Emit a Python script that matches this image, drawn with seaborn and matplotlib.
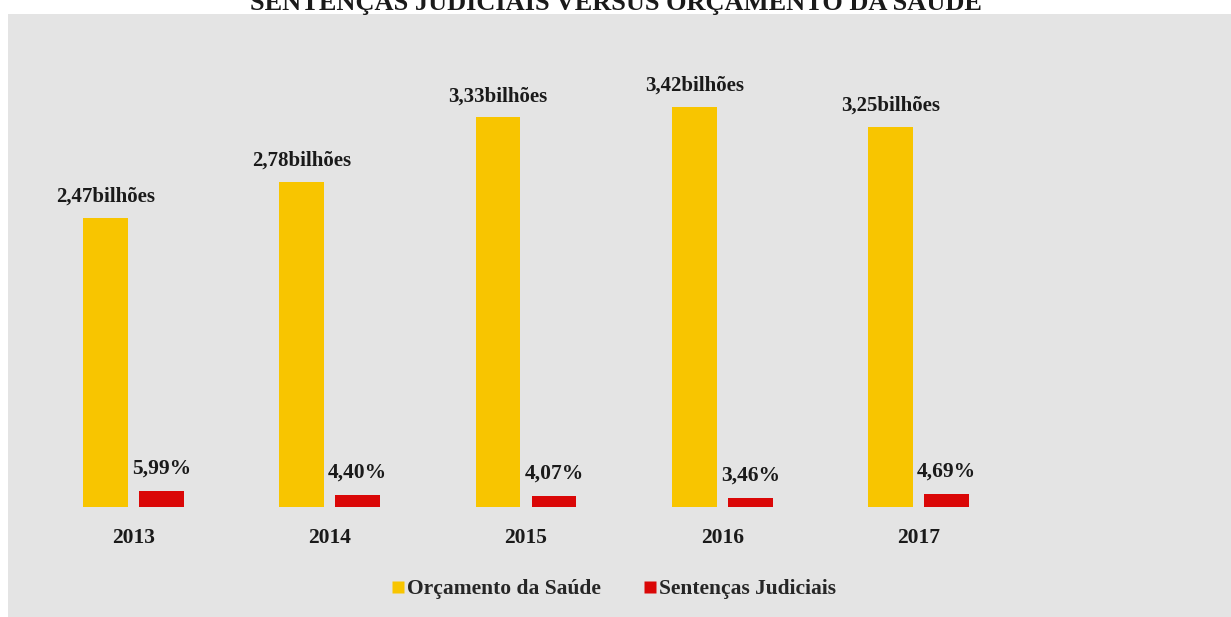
import matplotlib
matplotlib.use("Agg")
import matplotlib.pyplot as plt
from matplotlib.patches import Rectangle
from matplotlib.lines import Line2D
import seaborn as sns
import pandas as pd

# Data
anos = ["2013", "2014", "2015", "2016", "2017"]
orcamento_bi = [2.47, 2.78, 3.33, 3.42, 3.25]          # bilhões
sentencas_pct = [5.99, 4.40, 4.07, 3.46, 4.69]         # % do orçamento
series = ["Orçamento da Saúde", "Sentenças Judiciais"]
cores = {"Orçamento da Saúde": "#F8C500", "Sentenças Judiciais": "#DA0707"}
titulo = "SENTENÇAS JUDICIAIS VERSUS ORÇAMENTO DA SAÚDE"

df = pd.DataFrame({
    "Ano": anos * 2,
    "Série": [series[0]] * len(anos) + [series[1]] * len(anos),
    "Valor": orcamento_bi + sentencas_pct,
})

sns.set_theme(style="white")
plt.rcParams["font.family"] = ["Liberation Serif", "DejaVu Serif"]
plt.rcParams["font.weight"] = "bold"

W, H = 1231, 617
fig = plt.figure(figsize=(W / 100, H / 100), dpi=100)
fig.patch.set_facecolor("white")

# gray backdrop panel
fig.patches.append(Rectangle((8 / W, 0), 1 - 8 / W, 1 - 14 / H,
                             transform=fig.transFigure, facecolor="#e4e4e4",
                             edgecolor="none", zorder=-10))

ax_left = 8 / W
ax_bottom = (H - 507) / H
ax_height = (507 - 14) / H
ax = fig.add_axes([ax_left, ax_bottom, 1 - ax_left, ax_height])
ax.patch.set_alpha(0)
ax2 = ax.twinx()
ax2.patch.set_alpha(0)

# Both axes get the dodged pair; each keeps only the series on its own scale
common = dict(data=df, x="Ano", y="Valor", hue="Série", hue_order=series,
              order=anos, palette=cores, width=0.57, gap=0.2, errorbar=None,
              legend=False, saturation=1, linewidth=0)
sns.barplot(ax=ax, **common)
sns.barplot(ax=ax2, **common)
for bar in list(ax.containers[1]):
    bar.remove()
for bar in list(ax2.containers[0]):
    bar.remove()
bars_orc = ax.containers[0]
bars_sent = ax2.containers[1]

# scales: main in bilhões, secondary in %
ax.set_ylim(0, 493 / 117)
ax2.set_ylim(0, 493 / 2.7)
ax.set_xlim(-0.638, 5.59)
ax2.set_xlim(-0.638, 5.59)

for a in (ax, ax2):
    a.set_ylabel("")
    a.set_xlabel("")
    a.set_yticks([])
    for s in a.spines.values():
        s.set_visible(False)
ax2.tick_params(axis="x", bottom=False, labelbottom=False)
ax.tick_params(axis="x", length=0, pad=15, labelsize=15.5)
for lbl in ax.get_xticklabels():
    lbl.set_fontweight("bold")
    lbl.set_color("#1a1a1a")

# value labels
for bar, v in zip(bars_orc, orcamento_bi):
    ax.annotate(f"{v:.2f}".replace(".", ",") + "bilhões",
                (bar.get_x() + bar.get_width() / 2, bar.get_height()),
                xytext=(0, 8), textcoords="offset points", ha="center",
                va="bottom", fontsize=15, fontweight="bold", color="#1a1a1a")
for bar, v in zip(bars_sent, sentencas_pct):
    ax2.annotate(f"{v:.2f}".replace(".", ",") + "%",
                 (bar.get_x() + bar.get_width() / 2, bar.get_height()),
                 xytext=(0, 9), textcoords="offset points", ha="center",
                 va="bottom", fontsize=15.5, fontweight="bold", color="#1a1a1a")

# legend
handles = [Line2D([], [], marker="s", linestyle="none", markersize=8,
                  markerfacecolor=cores[s], markeredgecolor="none", label=s)
           for s in series]
fig.legend(handles=handles, loc="center", bbox_to_anchor=(614 / W, 1 - 589 / H),
           ncol=2, frameon=False, prop={"size": 15.5, "weight": "bold"},
           handletextpad=0.1, columnspacing=2.0, handlelength=0.6)

# title, partly above the top edge
fig.text(0.5, 1 - 10 / H, titulo, ha="center", va="baseline",
         fontsize=19, fontweight="bold", color="#1a1a1a")

fig.savefig("out.png", dpi=100, facecolor="white")
